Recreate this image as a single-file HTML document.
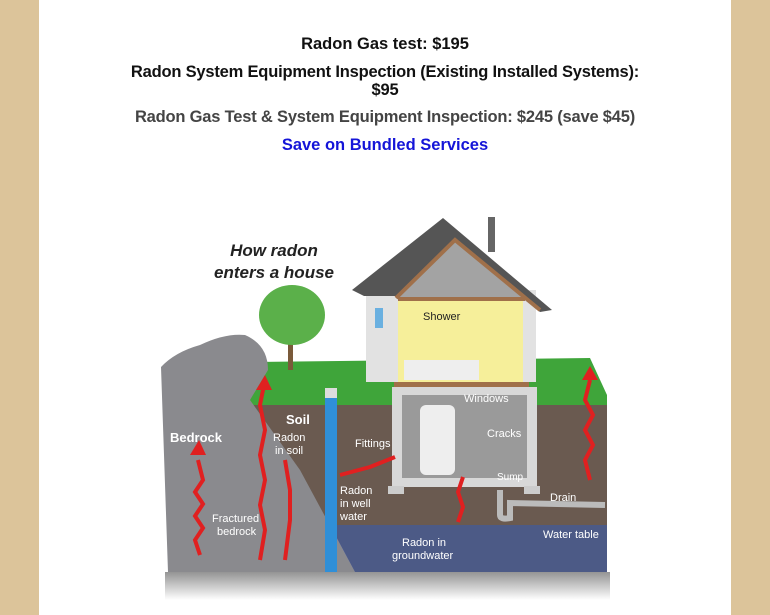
<!DOCTYPE html>
<html><head><meta charset="utf-8"><style>
html,body{margin:0;padding:0;width:770px;height:615px;overflow:hidden;background:#dcc49a;font-family:"Liberation Sans",sans-serif}
#panel{position:absolute;left:39px;top:0;width:692px;height:615px;background:#fff}
.t{position:absolute;left:39px;width:692px;text-align:center;font-weight:bold;font-size:16.5px;color:#111;line-height:18px}
</style></head><body>
<div id="panel"></div>
<div class="t" style="top:35px">Radon Gas test: $195</div>
<div class="t" style="top:63px;letter-spacing:-0.2px">Radon System Equipment Inspection (Existing Installed Systems):<br>$95</div>
<div class="t" style="top:108px;color:#444;letter-spacing:-0.2px">Radon Gas Test &amp; System Equipment Inspection: $245 (save $45)</div>
<div class="t" style="top:136px;color:#1515d8">Save on Bundled Services</div>
<svg style="position:absolute;left:0;top:0" width="770" height="615" viewBox="0 0 770 615">
<defs><linearGradient id="sh" x1="0" y1="0" x2="0" y2="1"><stop offset="0" stop-color="#666"/><stop offset="1" stop-color="#fff"/></linearGradient></defs>
<rect x="165" y="572" width="445" height="28" fill="url(#sh)" opacity="0.7"/>
<!-- grass -->
<polygon points="218,405 250,362 590,358 607,395 607,405" fill="#3fa53a"/>
<!-- soil -->
<rect x="168" y="405" width="439" height="120" fill="#6a5a50"/>
<!-- water -->
<rect x="168" y="525" width="439" height="47" fill="#4c5a86"/>
<polygon points="168,525 330,525 355,572 168,572" fill="#6677b5"/>
<!-- bedrock -->
<path d="M161,367 Q175,352 200,345 Q225,333 245,335 Q268,345 268,370 L250,400 L300,470 L355,572 L168,572 Z" fill="#8a8a8e"/>
<!-- tree -->
<rect x="288" y="330" width="5" height="40" fill="#7a5a3a"/>
<ellipse cx="292" cy="315" rx="33" ry="30" fill="#5bb04a"/>
<!-- well -->
<rect x="325" y="398" width="12" height="174" fill="#2f8fd8"/>
<rect x="325" y="388" width="12" height="10" fill="#ddd"/>
<!-- house upper -->
<rect x="366" y="290" width="170" height="92" fill="#e2e2e2"/>
<rect x="398" y="300" width="125" height="82" fill="#f6ef9a"/>
<rect x="404" y="360" width="75" height="20" fill="#eee"/>
<rect x="488" y="217" width="7" height="35" fill="#666"/>
<polygon points="398,298 455,240 525,298" fill="#bdbdbd"/>
<polygon points="398,290 455,235 525,290 525,298 398,298" fill="#8a8a8a" opacity="0.5"/>
<polygon points="352,290 443,218 552,310 540,312 455,240 398,296 364,296" fill="#555"/>
<path d="M396,298 L455,240 L540,310" stroke="#a0704a" stroke-width="4" fill="none"/>
<rect x="398" y="297" width="127" height="4" fill="#a0704a"/>
<rect x="394" y="382" width="135" height="5" fill="#a0704a"/>
<rect x="375" y="308" width="8" height="20" fill="#6ab0e0"/>
<!-- basement -->
<rect x="392" y="387" width="145" height="100" fill="#d8d8d8"/>
<rect x="402" y="395" width="125" height="83" fill="#9a9a9a"/>
<rect x="388" y="486" width="16" height="8" fill="#ccc"/><rect x="524" y="486" width="16" height="8" fill="#ccc"/>
<rect x="420" y="405" width="35" height="70" rx="6" fill="#eee"/>
<!-- drain -->
<path d="M500,490 L500,515 Q500,520 510,518 L510,503 L605,505" stroke="#bbb" stroke-width="6" fill="none"/>
<!-- red arrows -->
<g stroke="#e02020" stroke-width="4" fill="none">
<path d="M200,555 l-5,-15 l8,-12 l-8,-12 l8,-12 l-8,-12 l8,-12 l-5,-20"/>
<path d="M260,560 l5,-30 l-5,-25 l5,-25 l-5,-25 l5,-25 l-5,-25 l5,-25"/>
<path d="M285,560 l5,-40 l0,-30 l-5,-30"/>
<path d="M590,480 l-5,-20 l8,-15 l-8,-15 l8,-15 l-8,-15 l5,-20"/>
<path d="M340,475 l30,-8 l25,-10"/>
<path d="M458,522 l5,-15 l-5,-15 l5,-15"/>
</g>
<g fill="#e02020"><polygon points="190,455 199,440 206,455"/><polygon points="256,390 265,375 272,390"/><polygon points="582,380 590,366 598,380"/></g>
<!-- labels -->
<g font-family="Liberation Sans, sans-serif" fill="#fff" font-size="11">
<text x="274" y="256" fill="#222" font-size="17" font-weight="bold" font-style="italic" text-anchor="middle">How radon</text>
<text x="274" y="278" fill="#222" font-size="17" font-weight="bold" font-style="italic" text-anchor="middle">enters a house</text>
<text x="170" y="442" font-size="13" font-weight="bold">Bedrock</text>
<text x="286" y="424" font-size="13" font-weight="bold">Soil</text>
<text x="273" y="441">Radon</text><text x="275" y="454">in soil</text>
<text x="355" y="447">Fittings</text>
<text x="340" y="494">Radon</text><text x="340" y="507">in well</text><text x="340" y="520">water</text>
<text x="212" y="522">Fractured</text><text x="217" y="535">bedrock</text>
<text x="402" y="546">Radon in</text><text x="392" y="559">groundwater</text>
<text x="464" y="402">Windows</text><text x="487" y="437">Cracks</text>
<text x="497" y="480" font-size="10">Sump</text><text x="550" y="501">Drain</text>
<text x="543" y="538">Water table</text>
<text x="423" y="320" fill="#222">Shower</text>
</g>
</svg>
</body></html>
